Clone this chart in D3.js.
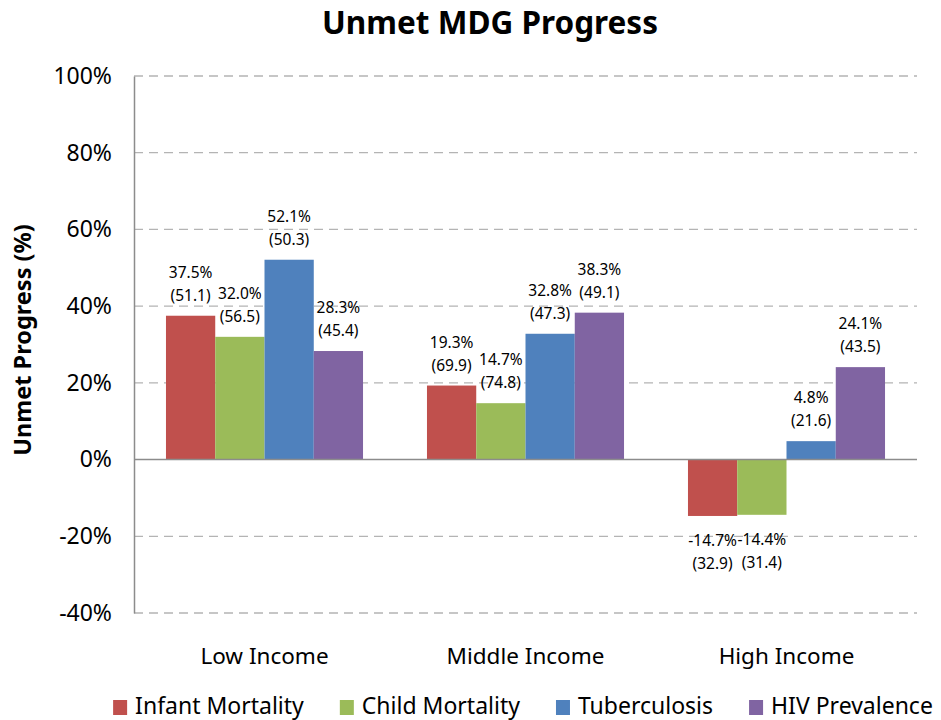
<!DOCTYPE html>
<html>
<head>
<meta charset="utf-8">
<script src="https://cdn.jsdelivr.net/npm/d3@7"></script>
<style>
  body { margin: 0; background: #fff; }
  text { font-family: "Noto Sans", "Open Sans", sans-serif; fill: #000; }
</style>
</head>
<body>
<svg id="chart" width="941" height="720"></svg>
<script>
const categories = ["Low Income", "Middle Income", "High Income"];
const seriesNames = ["Infant Mortality", "Child Mortality", "Tuberculosis", "HIV Prevalence"];
const seriesColors = ["#C0504D", "#9BBB59", "#4F81BD", "#8064A2"];
// unmet progress in %, per category
const infantMortality = [37.5, 19.3, -14.7];
const childMortality = [32.0, 14.7, -14.4];
const tuberculosis = [52.1, 32.8, 4.8];
const hivPrevalence = [28.3, 38.3, 24.1];
// figure shown in brackets under each label
const infantBracket = [51.1, 69.9, 32.9];
const childBracket = [56.5, 74.8, 31.4];
const tbBracket = [50.3, 47.3, 21.6];
const hivBracket = [45.4, 49.1, 43.5];
const yTicks = [-40, -20, 0, 20, 40, 60, 80, 100];

const seriesValues = [infantMortality, childMortality, tuberculosis, hivPrevalence];
const seriesBrackets = [infantBracket, childBracket, tbBracket, hivBracket];

const svg = d3.select("#chart");
const plot = { left: 134, right: 917, top: 76, bottom: 613 };

const x0 = d3.scaleBand()
  .domain(categories)
  .range([plot.left, plot.right])
  .paddingInner(0.245)
  .paddingOuter(0.1225);
const x1 = d3.scaleBand()
  .domain(seriesNames)
  .range([0, x0.bandwidth()]);
const y = d3.scaleLinear().domain([-40, 100]).range([plot.bottom, plot.top]);
const color = d3.scaleOrdinal().domain(seriesNames).range(seriesColors);

// title
svg.append("text")
  .attr("x", 490).attr("y", 34)
  .attr("text-anchor", "middle")
  .style("font-size", "31.5px").style("font-weight", "bold")
  .text("Unmet MDG Progress");

// gridlines
svg.append("g").selectAll("line")
  .data(yTicks.filter(t => t !== 0))
  .join("line")
  .attr("x1", plot.left).attr("x2", plot.right)
  .attr("y1", d => y(d)).attr("y2", d => y(d))
  .attr("stroke", "#b4b4b4")
  .attr("stroke-width", 1.3)
  .attr("stroke-dasharray", "9,6");

// y axis
const yAxis = d3.axisLeft(y).tickValues(yTicks).tickSize(0).tickPadding(22).tickFormat(d => d + "%");
const gy = svg.append("g").attr("transform", `translate(${plot.left},0)`).call(yAxis);
gy.select(".domain").attr("stroke", "#8c8c8c").attr("stroke-width", 1.5);
gy.selectAll("text")
  .style("font-size", "23px")
  .style("font-family", "'Noto Sans', sans-serif")
  .attr("fill", "#000");

svg.append("text")
  .attr("transform", "translate(31,340) rotate(-90)")
  .attr("text-anchor", "middle")
  .style("font-size", "23.5px").style("font-weight", "bold")
  .text("Unmet Progress (%)");

// bars
const rows = [];
seriesNames.forEach((s, i) => {
  categories.forEach((c, j) => {
    rows.push({ series: s, category: c, value: seriesValues[i][j], bracket: seriesBrackets[i][j] });
  });
});

svg.append("g").selectAll("rect")
  .data(rows)
  .join("rect")
  .attr("x", d => x0(d.category) + x1(d.series))
  .attr("width", x1.bandwidth())
  .attr("y", d => y(Math.max(0, d.value)))
  .attr("height", d => Math.abs(y(d.value) - y(0)))
  .attr("fill", d => color(d.series));

// zero line
svg.append("line")
  .attr("x1", plot.left).attr("x2", plot.right)
  .attr("y1", y(0)).attr("y2", y(0))
  .attr("stroke", "#8c8c8c").attr("stroke-width", 1.5);

// data labels
const labels = svg.append("g").selectAll("text")
  .data(rows)
  .join("text")
  .attr("text-anchor", "middle")
  .style("font-size", "15.5px")
  .attr("transform", d => {
    const cx = x0(d.category) + x1(d.series) + x1.bandwidth() / 2;
    const base = d.value >= 0 ? y(d.value) - 38 : y(d.value) + 30;
    return `translate(${cx},${base})`;
  });
labels.append("tspan").attr("x", 0).attr("dy", 0).text(d => d.value.toFixed(1) + "%");
labels.append("tspan").attr("x", 0).attr("dy", 23).text(d => "(" + d.bracket.toFixed(1) + ")");

// category labels
svg.append("g").selectAll("text")
  .data(categories)
  .join("text")
  .attr("x", d => x0(d) + x0.bandwidth() / 2)
  .attr("y", 664)
  .attr("text-anchor", "middle")
  .style("font-size", "22.5px")
  .text(d => d);

// legend
const legend = svg.append("g");
let lx = 0;
seriesNames.forEach(s => {
  const item = legend.append("g").attr("transform", `translate(${lx},0)`);
  item.append("rect")
    .attr("x", 0).attr("y", 700).attr("width", 14).attr("height", 15)
    .attr("fill", color(s));
  const t = item.append("text")
    .attr("x", 22).attr("y", 714)
    .style("font-size", "23px")
    .text(s);
  lx += 22 + t.node().getComputedTextLength() + 36;
});
const legendWidth = lx - 36;
legend.attr("transform", `translate(${523 - legendWidth / 2},0)`);
</script>
</body>
</html>
